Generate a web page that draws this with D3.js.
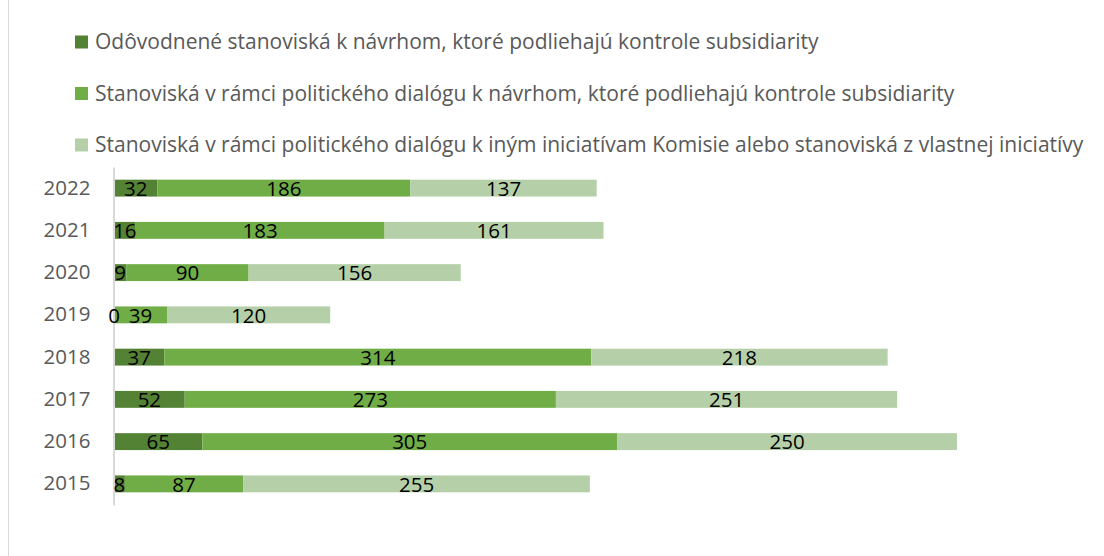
<!DOCTYPE html>
<html><head><meta charset="utf-8">
<script src="https://cdn.jsdelivr.net/npm/d3@7"></script>
<style>body{margin:0;background:#fff}</style>
</head><body>
<svg id="c" width="1104" height="556"></svg>
<script>
const years = ["2022","2021","2020","2019","2018","2017","2016","2015"];
const reasoned = [32,16,9,0,37,52,65,8];
const dialogSub = [186,183,90,39,314,273,305,87];
const dialogOther = [137,161,156,120,218,251,250,255];
const seriesNames = [
  "Odôvodnené stanoviská k návrhom, ktoré podliehajú kontrole subsidiarity",
  "Stanoviská v rámci politického dialógu k návrhom, ktoré podliehajú kontrole subsidiarity",
  "Stanoviská v rámci politického dialógu k iným iniciatívam Komisie alebo stanoviská z vlastnej iniciatívy"
];
const colors = ["#548235","#70ad47","#b5d0a9"];
const font = "'Open Sans', sans-serif";

const svg = d3.select("#c");
const rows = years.map((y,i)=>({year:y, s0:reasoned[i], s1:dialogSub[i], s2:dialogOther[i]}));
const stack = d3.stack().keys(["s0","s1","s2"])(rows);

const x = d3.scaleLinear().domain([0,620]).range([114,957]);
const y = d3.scaleBand().domain(years).range([167,505]).paddingInner(0.6).paddingOuter(0.3);

// frame left border
svg.append("line").attr("x1",8.5).attr("x2",8.5).attr("y1",0).attr("y2",556)
  .attr("stroke","#d9d9d9").attr("stroke-width",1);

// legend
const lg = svg.append("g");
seriesNames.forEach((n,i)=>{
  const g = lg.append("g").attr("transform",`translate(75,${42+i*51.5})`);
  g.append("rect").attr("x",0).attr("y",-6.5).attr("width",13).attr("height",13).attr("fill",colors[i]);
  g.append("text").attr("x",20).attr("y",0).attr("dy","0.35em")
    .attr("font-family",font).attr("font-size",21).attr("fill","#595959").text(n);
});

// bars
const layers = svg.append("g").selectAll("g").data(stack).join("g").attr("fill",(d,i)=>colors[i]);
layers.selectAll("rect").data(d=>d).join("rect")
  .attr("x",d=>x(d[0])).attr("width",d=>x(d[1])-x(d[0]))
  .attr("y",d=>y(d.data.year)).attr("height",y.bandwidth());

// y axis
const ax = svg.append("g").attr("transform","translate(113.5,0)")
  .call(d3.axisLeft(y).tickSize(0).tickPadding(23));
ax.select(".domain").attr("stroke","#d9d9d9").attr("stroke-width",2);
ax.selectAll("text").attr("font-family",font).attr("font-size",20.5).attr("fill","#595959");

// labels
const lbl = svg.append("g").attr("font-family",font).attr("font-size",20.5).attr("fill","#000").attr("text-anchor","middle");
stack.forEach(layer=>{
  layer.forEach(d=>{
    lbl.append("text").attr("x",(x(d[0])+x(d[1]))/2).attr("y",y(d.data.year)+y.bandwidth()/2).attr("dy","0.38em")
      .text(d[1]-d[0]);
  });
});
</script>
</body></html>
